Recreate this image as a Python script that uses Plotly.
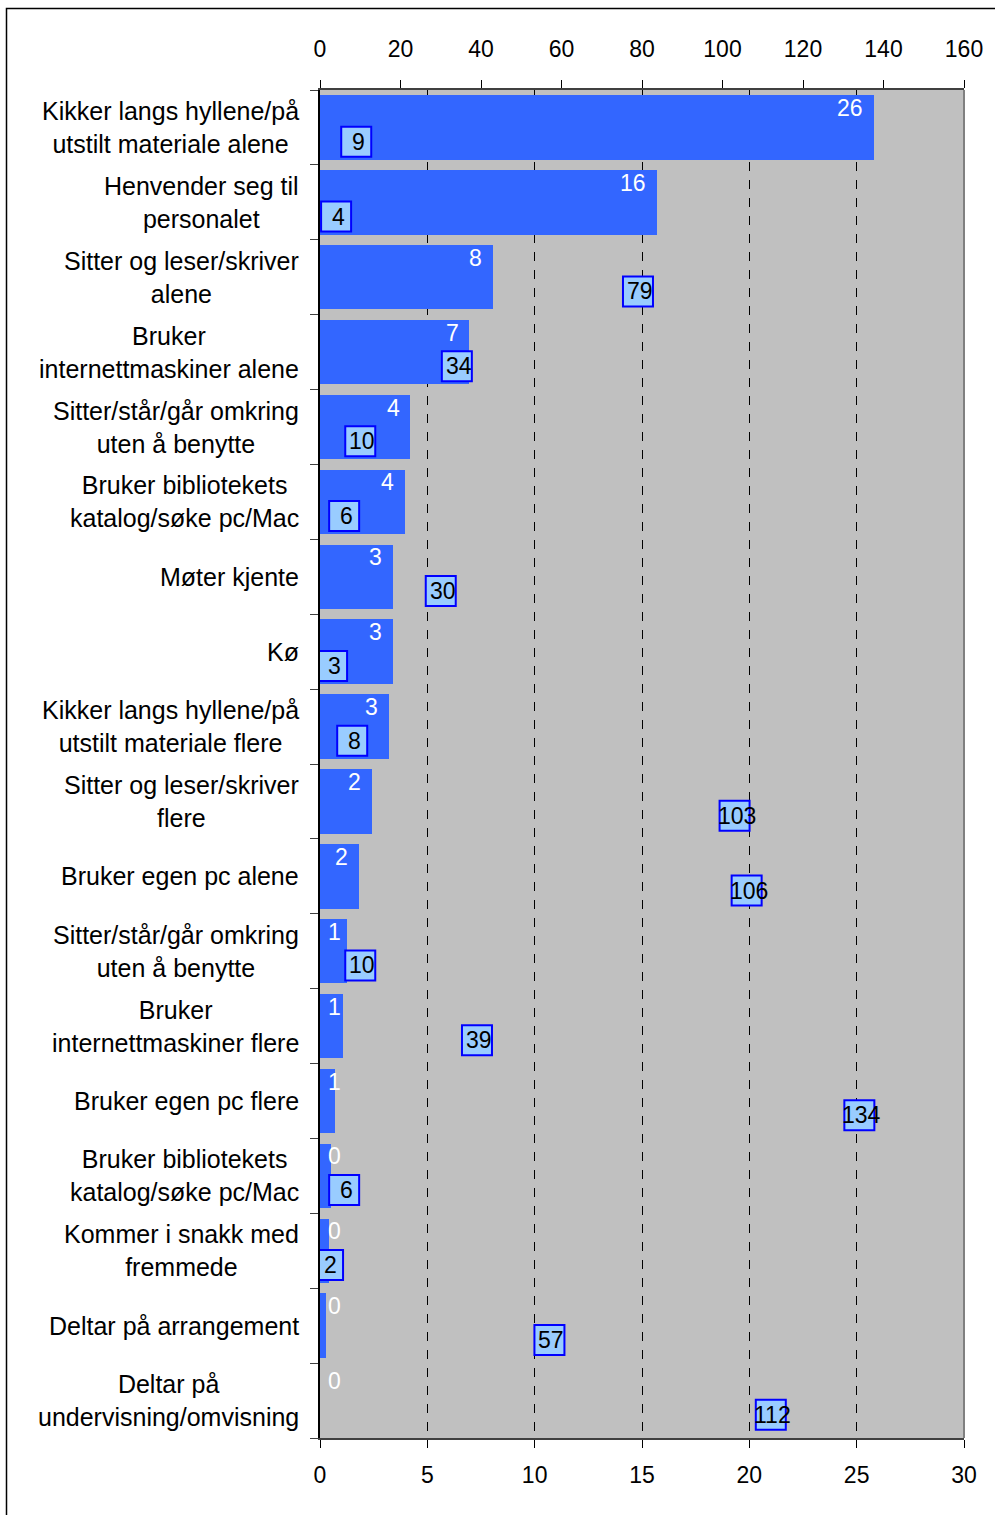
import plotly.graph_objects as go

categories = [
    "Kikker langs hyllene/på<br>utstilt materiale alene",
    "Henvender seg til<br>personalet",
    "Sitter og leser/skriver<br>alene",
    "Bruker<br>internettmaskiner alene",
    "Sitter/står/går omkring<br>uten å benytte",
    "Bruker bibliotekets<br>katalog/søke pc/Mac",
    "Møter kjente",
    "Kø",
    "Kikker langs hyllene/på<br>utstilt materiale flere",
    "Sitter og leser/skriver<br>flere",
    "Bruker egen pc alene",
    "Sitter/står/går omkring<br>uten å benytte",
    "Bruker<br>internettmaskiner flere",
    "Bruker egen pc flere",
    "Bruker bibliotekets<br>katalog/søke pc/Mac",
    "Kommer i snakk med<br>fremmede",
    "Deltar på arrangement",
    "Deltar på<br>undervisning/omvisning",
]
bar_values = [25.8, 15.7, 8.05, 6.95, 4.2, 3.95, 3.4, 3.4, 3.2, 2.4, 1.8, 1.25, 1.05, 0.7, 0.5, 0.4, 0.3, 0.0]
bar_labels = ["26", "16", "8", "7", "4", "4", "3", "3", "3", "2", "2", "1", "1", "1", "0", "0", "0", "0"]
count_values = [9, 4, 79, 34, 10, 6, 30, 3, 8, 103, 106, 10, 39, 134, 6, 2, 57, 112]

FONT = "Liberation Sans, Arial, sans-serif"
W, H = 995, 1515
L, R, T, B = 320, 31, 90, 77
PW, PH = W - L - R, H - T - B

ypos = list(range(len(categories)))

fig = go.Figure()
fig.add_trace(go.Bar(
    y=ypos, x=bar_values, orientation="h", width=0.86,
    marker=dict(color="#3366FF", line=dict(width=0)),
    xaxis="x", yaxis="y", showlegend=False, hoverinfo="skip",
))
# invisible trace to activate top axis
fig.add_trace(go.Scatter(
    x=count_values, y=[i + 0.19 for i in ypos], mode="markers",
    marker=dict(opacity=0), xaxis="x2", yaxis="y", showlegend=False, hoverinfo="skip",
))

ann = []
shapes = []
for i, (v, lab) in enumerate(zip(bar_values, bar_labels)):
    ann.append(dict(
        x=max(v - 0.4, 1.05), y=i - 0.26, xref="x", yref="y", text=lab,
        showarrow=False, xanchor="right", yanchor="middle",
        font=dict(family=FONT, size=23, color="white"),
    ))
for i, c in enumerate(count_values):
    shapes.append(dict(
        type="rect", xref="x2", yref="y",
        xsizemode="pixel", xanchor=c, x0=-15, x1=15,
        ysizemode="pixel", yanchor=i + 0.19, y0=-15, y1=15,
        fillcolor="#99CCFF", line=dict(color="#0000FF", width=2), layer="above",
    ))
    ann.append(dict(
        x=c, y=i + 0.19, xref="x2", yref="y", text=str(c),
        showarrow=False, xanchor="center", yanchor="middle", xshift=2,
        font=dict(family=FONT, size=23, color="black"),
    ))
for i, cat in enumerate(categories):
    ann.append(dict(
        x=-19 / PW, y=i, xref="paper", yref="y", text=cat,
        showarrow=False, xanchor="right", yanchor="middle", align="center",
        font=dict(family=FONT, size=25, color="black"),
    ))

shapes += [
    dict(type="line", xref="paper", yref="paper", x0=1, x1=1, y0=0, y1=1,
         line=dict(color="#808080", width=2)),
    dict(type="rect", xref="paper", yref="paper",
         x0=(6.5 - L) / PW, x1=(W + 20 - L) / PW,
         y0=(H - B - (H + 20)) / PH, y1=(H - B - 8.5) / PH,
         line=dict(color="black", width=1.5)),
]

fig.update_layout(
    width=W, height=H,
    margin=dict(l=L, r=R, t=T, b=B),
    paper_bgcolor="white", plot_bgcolor="#C0C0C0",
    font=dict(family=FONT, size=23, color="black"),
    bargap=0,
    xaxis=dict(
        range=[0, 30], dtick=5, tick0=0, ticks="outside", ticklen=8, tickcolor="black",
        showline=True, linecolor="#404040", linewidth=2,
        showgrid=True, gridcolor="black", gridwidth=1, griddash="dash",
        zeroline=False, tickfont=dict(size=23, family=FONT), fixedrange=True,
        ticklabelstandoff=7,
    ),
    xaxis2=dict(
        range=[0, 160], dtick=20, tick0=0, ticks="outside", ticklen=8, tickcolor="black",
        overlaying="x", side="top", anchor="y",
        showline=True, linecolor="#404040", linewidth=2,
        showgrid=False, zeroline=False, tickfont=dict(size=23, family=FONT),
        ticklabelstandoff=14,
    ),
    yaxis=dict(
        range=[len(categories) - 0.5, -0.5],
        tickvals=[i - 0.5 for i in range(len(categories) + 1)],
        ticks="outside", ticklen=8, tickcolor="#404040", showticklabels=False,
        showline=True, linecolor="black", linewidth=2,
        showgrid=False, zeroline=False,
    ),
    annotations=ann,
    shapes=shapes,
)

fig.write_html("out.html", config={"displayModeBar": False},
               post_script="document.body.style.margin='0';")
